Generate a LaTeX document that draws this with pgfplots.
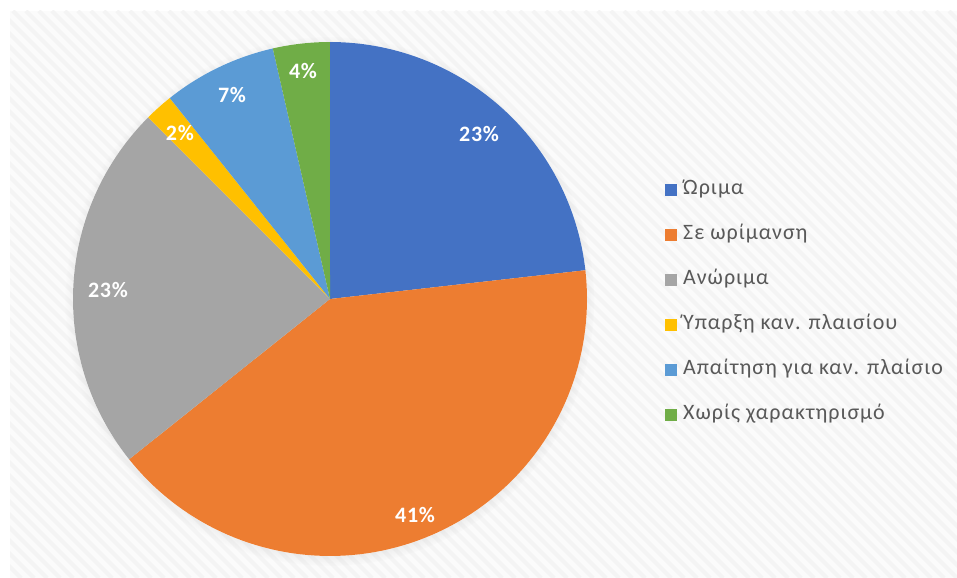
\documentclass[border=0pt]{standalone}
\usepackage{pgfplots}
\pgfplotsset{compat=1.18}
\usepackage{fontspec}
\setmainfont{Carlito}
\usetikzlibrary{shadows}
\definecolor{cA}{HTML}{4472C4}
\definecolor{cB}{HTML}{ED7D31}
\definecolor{cC}{HTML}{A5A5A5}
\definecolor{cD}{HTML}{FFC000}
\definecolor{cE}{HTML}{5B9BD5}
\definecolor{cF}{HTML}{70AD47}
\definecolor{txt}{HTML}{595959}
% counts: 13, 23, 13, 1, 4, 2 (total 56); cumulative 0,13,36,49,50,54,56
\begin{document}
\begin{tikzpicture}
\useasboundingbox (0,0) rectangle (957bp,578bp);
\begin{scope}
\clip (10bp,0bp) rectangle (957bp,567bp);
\fill[gray!3] (10bp,0bp) rectangle (957bp,567bp);
\foreach \i in {-50,...,75} {\draw[gray!9, line width=4bp] ({\i*13bp},567bp) -- ({\i*13bp+567bp},0bp);}
\end{scope}
\begin{axis}[
  at={(73bp,22bp)}, anchor=south west,
  scale only axis, width=514bp, height=514bp,
  xmin=-1, xmax=1, ymin=-1, ymax=1,
  hide axis, clip=false,
  legend style={at={(1.1518,0.7327)}, anchor=north west, draw=none, fill=none,
    font=\fontsize{22bp}{24bp}\selectfont\addfontfeatures{LetterSpace=4.5}\color{txt},
    row sep=25bp, inner sep=0pt, nodes={inner sep=0pt, text height=15bp, text depth=5bp}},
  legend cell align=left,
  /tikz/every odd column/.append style={column sep=6bp},
  legend image code/.code={\path[#1] (0bp,-6bp) rectangle (12bp,6bp);},
]
\path[fill=white, circular drop shadow={shadow xshift=0bp, shadow yshift=-2bp, shadow scale=1.03, opacity=0.35}] (axis cs:0,0) circle[radius=257bp];
\addplot[fill=cA, draw=none, domain=0:13, samples=60] ({cos(90-360*x/56)},{sin(90-360*x/56)}) -- (axis cs:0,0) -- cycle;
\addplot[fill=cB, draw=none, domain=13:36, samples=90] ({cos(90-360*x/56)},{sin(90-360*x/56)}) -- (axis cs:0,0) -- cycle;
\addplot[fill=cC, draw=none, domain=36:49, samples=60] ({cos(90-360*x/56)},{sin(90-360*x/56)}) -- (axis cs:0,0) -- cycle;
\addplot[fill=cD, draw=none, domain=49:50, samples=10] ({cos(90-360*x/56)},{sin(90-360*x/56)}) -- (axis cs:0,0) -- cycle;
\addplot[fill=cE, draw=none, domain=50:54, samples=25] ({cos(90-360*x/56)},{sin(90-360*x/56)}) -- (axis cs:0,0) -- cycle;
\addplot[fill=cF, draw=none, domain=54:56, samples=15] ({cos(90-360*x/56)},{sin(90-360*x/56)}) -- (axis cs:0,0) -- cycle;
\legend{Ώριμα, Σε ωρίμανση, Ανώριμα, Ύπαρξη καν. πλαισίου, Απαίτηση για καν. πλαίσιο, Χωρίς χαρακτηρισμό}
\begin{scope}[every node/.style={text=white, font=\bfseries\fontsize{22bp}{24bp}\selectfont\addfontfeatures{LetterSpace=3}}]
\node at (axis cs:0.580,0.642) {23\%};
\node at (axis cs:0.331,-0.840) {41\%};
\node at (axis cs:-0.864,0.035) {23\%};
\node at (axis cs:-0.584,0.646) {2\%};
\node at (axis cs:-0.381,0.794) {7\%};
\node at (axis cs:-0.105,0.887) {4\%};
\end{scope}
\end{axis}
\end{tikzpicture}
\end{document}
